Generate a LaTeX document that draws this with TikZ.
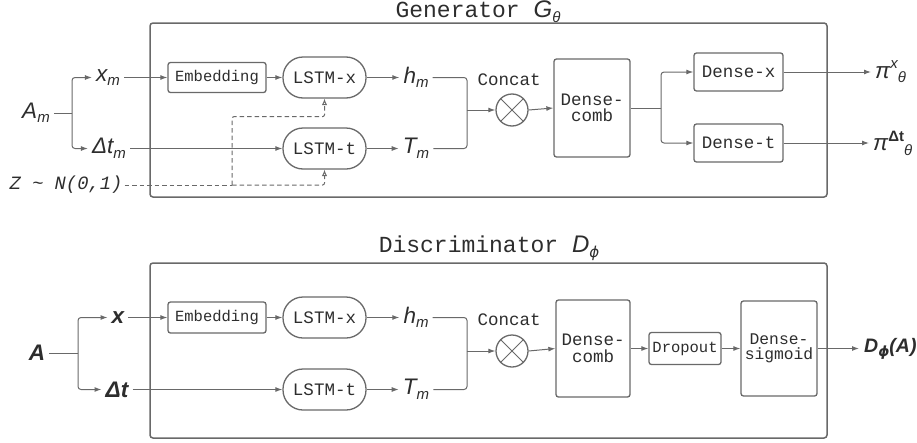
\documentclass[tikz,border=0pt]{standalone}
\usepackage{fontspec}
\setmainfont{Liberation Sans}
\newfontfamily\monof{Liberation Mono}
\newfontfamily\dvs{DejaVu Sans}
\usetikzlibrary{arrows.meta}
\definecolor{lc}{RGB}{105,105,105}
\definecolor{tc}{RGB}{45,45,45}
\newcommand\fs[1]{\fontsize{#1}{#1}\selectfont}
\newcommand\lsub[1]{\raisebox{-0.2em}{\fs{15pt}#1}}
\newcommand\lsup[1]{\raisebox{0.42em}{\fs{15pt}#1}}
\newcommand\phis{{\dvs\itshape\bfseries ϕ}}
\newcommand\phin{{\dvs\itshape ϕ}}
\tikzset{
  arr/.style={draw=lc, line width=1pt, -{Latex[length=7pt,width=5pt]}},
  ln/.style={draw=lc, line width=1pt},
  dsh/.style={draw=lc, line width=1pt, dash pattern=on 4.5pt off 3pt},
  oarr/.style={dsh, -{Latex[open,length=6.5pt,width=5.5pt]}},
  box/.style={draw=lc, line width=1.3pt, rounded corners=2.5pt, text=tc, font=\monof\fs{17.5pt}, inner sep=0pt, align=center},
  lstm/.style={box, rounded corners=20pt, minimum width=83pt, minimum height=41pt},
  lab/.style={text=tc, font=\fs{22.5pt}\itshape, inner sep=4pt},
  blab/.style={lab, font=\fs{22.5pt}\itshape\bfseries},
  frame/.style={draw=lc, line width=1.5pt, rounded corners=3pt},
  ttl/.style={text=tc, font=\monof\fs{23pt}, inner sep=0pt},
  cc/.style={draw=lc, line width=1.3pt, circle, minimum size=32pt, inner sep=0pt},
  ctext/.style={text=tc, font=\monof\fs{17.5pt}, inner sep=0pt}
}
\begin{document}
\begin{tikzpicture}[x=1pt,y=-1pt]
\path[use as bounding box] (0,0) rectangle (917,442);

% ---------------- Generator ----------------
\draw[frame] (150,23) rectangle (827,197);
\node[ttl] (gtitle) at (478,12) {Generator {\rmfamily\itshape\fs{24pt}G\raisebox{-0.2em}{\fs{15pt}θ}}};

\node[lab] (Am) at (36,113) {A\lsub{m}};
\node[lab] (xm) at (108,77.5) {x\lsub{m}};
\node[lab] (dtm) at (109,148.5) {Δt\lsub{m}};
\node[text=tc, font=\monof\itshape\fs{18.8pt}, inner sep=2pt] (Z) at (66,185) {Z \textasciitilde{} N(0,1)};

\node[box, minimum width=98pt, minimum height=30pt, font=\monof\fs{15.5pt}] (gemb) at (217,77.5) {Embedding};
\node[lstm] (glx) at (324.5,77.5) {LSTM-x};
\node[lstm] (glt) at (324.5,148.5) {LSTM-t};
\node[lab] (ghm) at (416,77.5) {h\lsub{m}};
\node[lab] (gTm) at (416,148.5) {T\lsub{m}};
\coordinate (gj) at (467,110);
\node[cc] (gcc) at (512,110) {};
\draw[ln] (gcc.north west) -- (gcc.south east) (gcc.north east) -- (gcc.south west);
\node[ctext] (gcon) at (509,80) {Concat};
\node[box, minimum width=76pt, minimum height=98pt] (gdc) at (592,108) {Dense-\\[-1pt]comb};
\coordinate (gbr) at (661,108);
\node[box, minimum width=89pt, minimum height=38pt] (gdx) at (738.5,72) {Dense-x};
\node[box, minimum width=89pt, minimum height=38pt] (gdt) at (738.5,143) {Dense-t};
\node[lab, anchor=west] (gpx) at (871,72) {π\lsup{x}\lsub{θ}};
\node[lab, anchor=west] (gpt) at (869,143) {π\lsup{\upshape\bfseries Δt}\lsub{θ}};

\coordinate (gA) at (72,113);
\draw[ln] (Am.east) -- (gA);
\draw[arr, rounded corners=3pt] (gA) |- (xm.west);
\draw[arr, rounded corners=3pt] (gA) |- (dtm.west);
\draw[arr] (xm.east) -- (gemb.west);
\draw[arr] (gemb.east) -- (glx.west);
\draw[arr] (dtm.east) -- (glt.west);
\draw[arr] (glx.east) -- (ghm.west);
\draw[arr] (glt.east) -- (gTm.west);
\draw[ln, rounded corners=3pt] (ghm.east) -| (gj);
\draw[ln, rounded corners=3pt] (gTm.east) -| (gj);
\draw[arr] (gj) -- (gcc.west);
\draw[arr] (gcc.east) -- (gdc.west);
\draw[ln] (gdc.east) -- (gbr);
\draw[arr, rounded corners=3pt] (gbr) |- (gdx.west);
\draw[arr, rounded corners=3pt] (gbr) |- (gdt.west);
\draw[arr] (gdx.east) -- (gpx.west);
\draw[arr] (gdt.east) -- (gpt.west |- gdt.east);

\coordinate (gz) at (232,185);
\draw[dsh] (Z.east) -- (gz);
\draw[oarr, rounded corners=2pt] (gz) |- ([yshift=-18pt]glx.south) -- (glx.south);
\draw[oarr, rounded corners=2pt] (gz) -| (glt.south);

% ---------------- Discriminator ----------------
\draw[frame] (150,263) rectangle (827,438);
\node[ttl] (dtitle) at (489,248) {Discriminator {\rmfamily\itshape\fs{24pt}D\raisebox{-0.2em}{\fs{15pt}\phin}}};

\node[blab] (A) at (37,353) {A};
\node[blab] (x) at (118,317.5) {x};
\node[blab] (dt) at (117,389.5) {Δt};
\node[box, minimum width=98pt, minimum height=31pt, font=\monof\fs{15.5pt}] (demb) at (217,317.5) {Embedding};
\node[lstm] (dlx) at (324.5,317.5) {LSTM-x};
\node[lstm] (dlt) at (324.5,389.5) {LSTM-t};
\node[lab] (dhm) at (416,317.5) {h\lsub{m}};
\node[lab] (dTm) at (416,389.5) {T\lsub{m}};
\coordinate (dj) at (467,351);
\node[cc] (dcc) at (512,351) {};
\draw[ln] (dcc.north west) -- (dcc.south east) (dcc.north east) -- (dcc.south west);
\node[ctext] (dcon) at (509,320) {Concat};
\node[box, minimum width=74pt, minimum height=97pt] (ddc) at (593,348.5) {Dense-\\[-1pt]comb};
\node[box, minimum width=72pt, minimum height=32pt, font=\monof\fs{15.5pt}] (ddo) at (685,348.5) {Dropout};
\node[box, minimum width=76pt, minimum height=95pt, font=\monof\fs{16.3pt}] (dds) at (779,348.5) {Dense-\\[-1pt]sigmoid};
\node[text=tc, anchor=west, inner sep=2pt, font=\fs{19.5pt}\itshape\bfseries] (dout) at (862,348.5) {D\raisebox{-0.2em}{\fs{14pt}\phis}(A)};

\coordinate (dA) at (78,353);
\draw[ln] (A.east) -- (dA);
\draw[arr, rounded corners=3pt] (dA) |- (x.west);
\draw[arr, rounded corners=3pt] (dA) |- (dt.west);
\draw[arr] (x.east) -- (demb.west);
\draw[arr] (demb.east) -- (dlx.west);
\draw[arr] (dt.east) -- (dlt.west);
\draw[arr] (dlx.east) -- (dhm.west);
\draw[arr] (dlt.east) -- (dTm.west);
\draw[ln, rounded corners=3pt] (dhm.east) -| (dj);
\draw[ln, rounded corners=3pt] (dTm.east) -| (dj);
\draw[arr] (dj) -- (dcc.west);
\draw[arr] (dcc.east) -- (ddc.west);
\draw[arr] (ddc.east) -- (ddo.west);
\draw[arr] (ddo.east) -- (dds.west);
\draw[arr, shorten >=3pt] (dds.east) -- (dout.west);
\end{tikzpicture}
\end{document}
